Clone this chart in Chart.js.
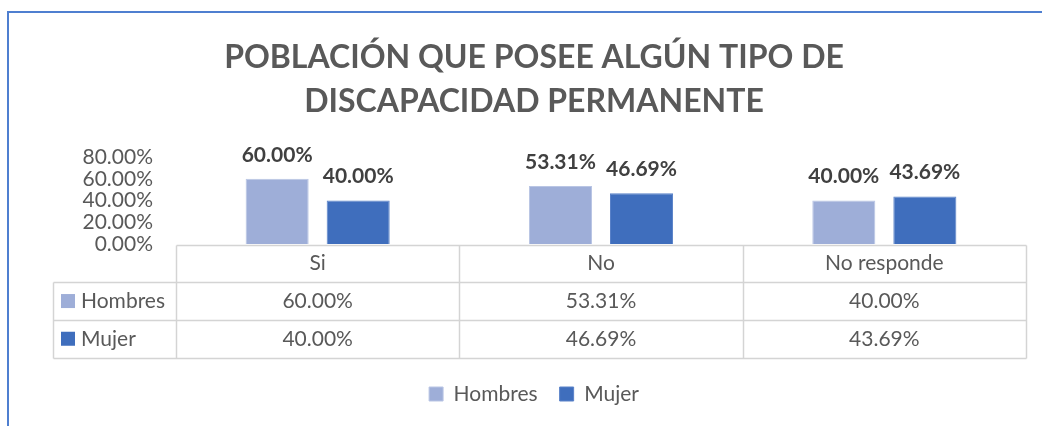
<!DOCTYPE html>
<html>
<head>
<meta charset="utf-8">
<script src="https://cdn.jsdelivr.net/npm/chart.js@4/dist/chart.umd.min.js"></script>
<style>
  html, body { margin: 0; padding: 0; background: #ffffff; }
  #wrap { position: relative; width: 1042px; height: 426px; overflow: hidden; }
  #frame { position: absolute; left: 7px; top: 11px; width: 2000px; height: 2000px;
           border-left: 2px solid #4f7fd0; border-top: 2px solid #4f7fd0; box-sizing: border-box; }
  canvas { position: absolute; left: 0; top: 0; }
</style>
</head>
<body>
<div id="wrap">
  <div id="frame"></div>
  <canvas id="c" width="1042" height="426"></canvas>
</div>
<script>
// ---- data ----
const titleLines = ['POBLACIÓN QUE POSEE ALGÚN TIPO DE', 'DISCAPACIDAD PERMANENTE'];
const categories = ['Si', 'No', 'No responde'];
const seriesNames = ['Hombres', 'Mujer'];
const hombres = [60.00, 53.31, 40.00];
const mujer = [40.00, 46.69, 43.69];
const yTicks = [0, 20, 40, 60, 80];
const seriesColors = ['#9eaed8', '#3f6ebd'];

const TEXT = '#595959';
const FONT = 'Lato';
const fmt = v => v.toFixed(2) + '%';

const dataLabelPlugin = {
  id: 'dataLabels',
  afterDatasetsDraw(chart) {
    const ctx = chart.ctx;
    ctx.save();
    ctx.font = 'bold 21px ' + FONT;
    ctx.fillStyle = '#404040';
    ctx.textAlign = 'center';
    ctx.textBaseline = 'middle';
    chart.data.datasets.forEach((ds, di) => {
      chart.getDatasetMeta(di).data.forEach((bar, i) => {
        ctx.fillText(fmt(ds.data[i]), bar.x, bar.y - 24);
      });
    });
    ctx.restore();
  }
};

const dataTablePlugin = {
  id: 'dataTable',
  afterDraw(chart) {
    const ctx = chart.ctx;
    const xs = chart.scales.x;
    const area = chart.chartArea;
    const rowH = 37.7;
    const top = area.bottom + 0.5;
    const n = categories.length;
    const edges = [];
    for (let i = 0; i <= n; i++) edges.push(xs.getPixelForValue(i - 0.5));
    const leftCol = area.left - 123;
    const right = edges[n];
    const p = v => Math.round(v) + 0.5;
    ctx.save();
    ctx.strokeStyle = '#d4d4d4';
    ctx.lineWidth = 1.5;
    const line = (x1, y1, x2, y2) => { ctx.beginPath(); ctx.moveTo(p(x1), p(y1)); ctx.lineTo(p(x2), p(y2)); ctx.stroke(); };
    line(edges[0], top, right, top);
    for (let r = 1; r <= 3; r++) line(leftCol, top + r * rowH, right, top + r * rowH);
    edges.forEach(e => line(e, top, e, top + 3 * rowH));
    line(leftCol, top + rowH, leftCol, top + 3 * rowH);

    ctx.font = '21px ' + FONT;
    ctx.fillStyle = TEXT;
    ctx.textBaseline = 'middle';
    ctx.textAlign = 'center';
    categories.forEach((c, i) => ctx.fillText(c, xs.getPixelForValue(i), top + rowH / 2));
    chart.data.datasets.forEach((ds, di) => {
      const cy = top + (di + 1.5) * rowH;
      ctx.fillStyle = ds.backgroundColor;
      ctx.fillRect(leftCol + 8, cy - 7, 14, 14);
      ctx.fillStyle = TEXT;
      ctx.textAlign = 'left';
      ctx.fillText(ds.label, leftCol + 28, cy);
      ctx.textAlign = 'center';
      ds.data.forEach((v, i) => ctx.fillText(fmt(v), xs.getPixelForValue(i), cy));
    });
    ctx.restore();
  }
};

function draw() {
  const LEFT = 42;
  new Chart(document.getElementById('c'), {
    type: 'bar',
    data: {
      labels: categories,
      datasets: [
        { label: seriesNames[0], data: hombres, backgroundColor: seriesColors[0], borderColor: '#b9c5e4', borderWidth: 1 },
        { label: seriesNames[1], data: mujer, backgroundColor: seriesColors[1], borderColor: '#5a82c8', borderWidth: 1 }
      ]
    },
    options: {
      responsive: false,
      devicePixelRatio: 1,
      animation: false,
      datasets: { bar: { categoryPercentage: 0.572, barPercentage: 0.778 } },
      layout: { padding: { left: LEFT, right: 16, top: 0, bottom: 11.5 } },
      scales: {
        x: {
          grid: { display: false, drawTicks: false },
          border: { display: false },
          ticks: { display: false },
          afterFit: s => { s.height = 117.5; }
        },
        y: {
          min: 0, max: 80,
          grid: { display: false, drawTicks: false },
          border: { display: false },
          ticks: {
            autoSkip: false, padding: 23, color: TEXT,
            font: { family: FONT, size: 21 },
            callback: v => fmt(v)
          },
          afterBuildTicks: s => { s.ticks = yTicks.map(v => ({ value: v })); },
          afterFit: s => { s.width = 176 - LEFT; }
        }
      },
      plugins: {
        tooltip: { enabled: false },
        title: {
          display: true,
          text: titleLines,
          color: TEXT,
          font: { family: FONT, size: 32, weight: 'bold', lineHeight: '43.5px' },
          padding: { top: 36, bottom: 34 }
        },
        legend: {
          position: 'bottom',
          labels: {
            color: TEXT, boxWidth: 14, boxHeight: 14, padding: 22,
            font: { family: FONT, size: 21 }
          }
        }
      }
    },
    plugins: [dataLabelPlugin, dataTablePlugin]
  });
}

Promise.all([
  document.fonts.load('21px Lato'),
  document.fonts.load('bold 21px Lato'),
  document.fonts.load('bold 32px Lato')
]).then(draw, draw);
</script>
</body>
</html>
